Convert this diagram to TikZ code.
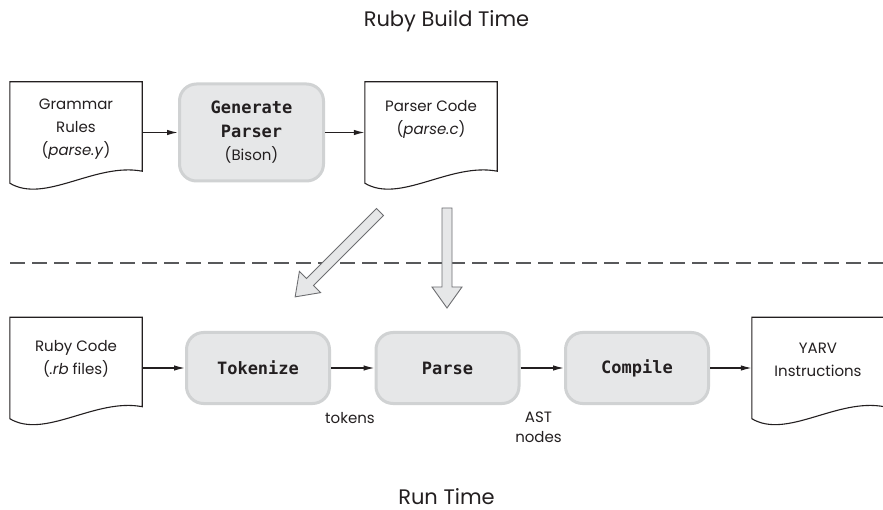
\documentclass[tikz,border=0pt]{standalone}
\usepackage{fontspec}
\setmainfont{Poppins}
\newfontfamily\codefont{DejaVu Sans Mono}
\usetikzlibrary{arrows.meta}
\definecolor{boxfill}{HTML}{E6E7E8}
\definecolor{boxline}{HTML}{D0D2D3}
\definecolor{ink}{HTML}{231F20}
\definecolor{bigline}{HTML}{6D6E71}
\definecolor{dashc}{HTML}{58595B}
\tikzset{
  docbox/.style={draw=none, minimum width=132pt, minimum height=101pt, inner sep=0pt},
  docline/.style={draw=ink, line width=1.1pt, fill=white},
  doctext/.style={text=ink, align=center, font=\fontsize{15}{23}\selectfont, inner sep=0pt},
  procbox/.style={draw=boxline, fill=boxfill, line width=3pt, rounded corners=17pt,
    minimum width=143pt, minimum height=71pt, align=center, text=ink, inner sep=0pt},
  codetext/.style={font=\codefont\bfseries\fontsize{17}{24}\selectfont},
  flow/.style={-{Latex[length=11pt,width=5.5pt]}, line width=1.3pt, draw=ink},
  lbl/.style={font=\fontsize{15}{20}\selectfont, text=ink, align=center, inner sep=0pt},
  titletext/.style={font=\fontsize{21}{25}\selectfont, text=ink, inner sep=0pt},
  bigarrow/.style={fill=boxfill, draw=bigline, line width=0.9pt, line join=miter},
  dashline/.style={draw=dashc, line width=1.3pt, dash pattern=on 15pt off 7pt}
}
\newcommand{\docoutline}[1]{%
  \draw[docline] (#1.north west) -- (#1.north east) -- ([yshift=12pt]#1.south east)
    .. controls ([xshift=-47pt,yshift=21pt]#1.south east) and ([xshift=35pt,yshift=-21pt]#1.south west)
    .. (#1.south west) -- cycle;}
\begin{document}
\begin{tikzpicture}[x=1pt,y=-1pt]
\useasboundingbox (0,0) rectangle (883,510);
% titles
\node[titletext, anchor=base] (bt) at (446.5,27) {Ruby Build Time};
\node[titletext, anchor=base] (rt) at (446.5,504) {Run Time};
% build-time row
\node[docbox] (gram) at (76,132.5) {};
\docoutline{gram}
\node[doctext] (gramt) at (76,129) {Grammar\\Rules\\(\textit{parse.y})};
\node[procbox, codetext, minimum width=144pt, minimum height=97pt] (gen) at (251.5,132.5)
  {Generate\\Parser\\[-1pt]\normalfont\fontsize{15}{20}\selectfont (Bison)};
\node[docbox] (pcode) at (431,132.5) {};
\docoutline{pcode}
\node[doctext] (pcodet) at (431,119) {Parser Code\\(\textit{parse.c})};
\draw[flow] (gram.east) -- (gen.west);
\draw[flow] (gen.east) -- (pcode.west);
% dashed separator
\coordinate (dl) at (10,263);
\coordinate (dr) at (883,263);
\draw[dashline] (dl) -- (dr);
% big arrows
\begin{scope}[shift={(380,212)}, rotate=-135, x=1pt, y=1pt]
  \coordinate (da) at (0,0);
  \draw[bigarrow] (0,5) -- (99,5) -- (99,15) -- (120,0) -- (99,-15) -- (99,-5) -- (0,-5) -- cycle;
\end{scope}
\begin{scope}[shift={(447,208)}, rotate=-90, x=1pt, y=1pt]
  \coordinate (va) at (0,0);
  \draw[bigarrow] (0,5) -- (79,5) -- (79,15) -- (100,0) -- (79,-15) -- (79,-5) -- (0,-5) -- cycle;
\end{scope}
% run-time row
\node[docbox] (ruby) at (76,368) {};
\docoutline{ruby}
\node[doctext] (rubyt) at (76,358.5) {Ruby Code\\(\textit{.rb} files)};
\node[procbox, codetext] (tok) at (258,368) {Tokenize};
\node[procbox, codetext] (parse) at (447.5,368) {Parse};
\node[procbox, codetext] (comp) at (637,368) {Compile};
\node[docbox] (yarv) at (818,368) {};
\docoutline{yarv}
\node[doctext] (yarvt) at (818,359.5) {YARV\\Instructions};
\draw[flow] (ruby.east) -- (tok.west);
\draw[flow] (tok.east) -- (parse.west);
\draw[flow] (parse.east) -- (comp.west);
\draw[flow] (comp.east) -- (yarv.west);
\node[lbl, anchor=base] (tokl) at (350,423) {tokens};
\node[lbl] (astl) at (538.5,427) {AST\\nodes};
\end{tikzpicture}
\end{document}
